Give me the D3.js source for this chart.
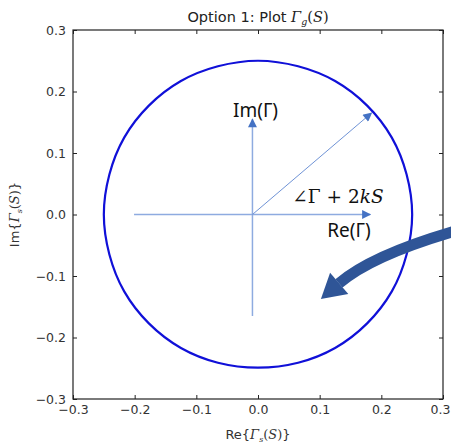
<!DOCTYPE html>
<html>
<head>
<meta charset="utf-8">
<script src="https://cdn.jsdelivr.net/npm/d3@7"></script>
<style>
  body { margin: 0; background: #fff; }
  svg { display: block; }
</style>
</head>
<body>
<svg id="chart"></svg>
<script>
const reGamma = [0.250, 0.241, 0.217, 0.177, 0.125, 0.065, 0.000, -0.065, -0.125, -0.177, -0.217, -0.241,
                 -0.250, -0.241, -0.217, -0.177, -0.125, -0.065, 0.000, 0.065, 0.125, 0.177, 0.217, 0.241];
const imGamma = [0.000, 0.065, 0.125, 0.177, 0.217, 0.241, 0.250, 0.241, 0.217, 0.177, 0.125, 0.065,
                 0.000, -0.065, -0.125, -0.177, -0.217, -0.241, -0.249, -0.241, -0.217, -0.177, -0.125, -0.065];
const xTicks = [-0.3, -0.2, -0.1, 0.0, 0.1, 0.2, 0.3];
const yTicks = [-0.3, -0.2, -0.1, 0.0, 0.1, 0.2, 0.3];

// overlay annotation (in data units)
const annOrigin = [-0.009, 0.0];
const annReEnd = [[-0.201, 0.0], [0.182, 0.0]];
const annImEnd = [[-0.009, -0.165], [-0.009, 0.155]];
const annPhasor = [0.184, 0.165];
const bigArrow = [[0.3195, -0.0268], [0.1837, -0.0665], [0.1313, -0.112]];
const bigHead = [[0.1020, -0.1375], [0.1169, -0.0948], [0.1464, -0.1293]];

const width = 451, height = 444;
const margin = {top: 30, right: 8, bottom: 45, left: 73};

const svg = d3.select('#chart')
  .attr('width', width)
  .attr('height', height);

const x = d3.scaleLinear().domain([-0.3, 0.3]).range([margin.left, width - margin.right]);
const y = d3.scaleLinear().domain([-0.3, 0.3]).range([height - margin.bottom, margin.top]);

const fmt = d3.format('.1f');
const tickFont = 'DejaVu Sans, sans-serif';

function styleAxis(g) {
  g.select('.domain').remove();
  g.selectAll('.tick line').attr('stroke', '#222').attr('stroke-width', 1);
  g.selectAll('.tick text')
    .attr('fill', '#333')
    .attr('font-family', tickFont)
    .attr('font-size', '12.5px');
}

const xAxis = svg.append('g')
  .attr('transform', `translate(0,${y(-0.3)})`)
  .call(d3.axisBottom(x).tickValues(xTicks).tickFormat(fmt).tickSizeInner(-4).tickSizeOuter(0).tickPadding(6))
  .call(styleAxis);
// last label sits against the page edge
xAxis.selectAll('.tick text').filter(d => d === 0.3).attr('dx', -3);

svg.append('g')
  .attr('transform', `translate(0,${y(0.3)})`)
  .call(d3.axisTop(x).tickValues(xTicks).tickFormat('').tickSizeInner(-4).tickSizeOuter(0))
  .call(styleAxis);
svg.append('g')
  .attr('transform', `translate(${x(-0.3)},0)`)
  .call(d3.axisLeft(y).tickValues(yTicks).tickFormat(fmt).tickSizeInner(-4).tickSizeOuter(0).tickPadding(7))
  .call(styleAxis);
svg.append('g')
  .attr('transform', `translate(${x(0.3)},0)`)
  .call(d3.axisRight(y).tickValues(yTicks).tickFormat('').tickSizeInner(-4).tickSizeOuter(0))
  .call(styleAxis);

// frame
svg.append('rect')
  .attr('x', x(-0.3)).attr('y', y(0.3))
  .attr('width', x(0.3) - x(-0.3)).attr('height', y(-0.3) - y(0.3))
  .attr('fill', 'none').attr('stroke', '#222').attr('stroke-width', 1.2);

// the curve
const pts = reGamma.map((r, i) => [r, imGamma[i]]);
svg.append('path')
  .datum(pts)
  .attr('fill', 'none')
  .attr('stroke', '#1010d8')
  .attr('stroke-width', 2.2)
  .attr('d', d3.line().x(d => x(d[0])).y(d => y(d[1])).curve(d3.curveCardinalClosed));

// title and axis labels
const title = svg.append('text')
  .attr('x', x(0)).attr('y', 22)
  .attr('text-anchor', 'middle')
  .attr('font-family', tickFont).attr('font-size', '14.5px').attr('fill', '#222');
title.append('tspan').text('Option 1: Plot ');
title.append('tspan').attr('font-family', 'DejaVu Serif, serif').attr('font-style', 'italic').text('Γ');
title.append('tspan').attr('font-family', 'DejaVu Serif, serif').attr('font-style', 'italic')
  .attr('font-size', '9.5px').attr('dy', 3).text('g');
title.append('tspan').attr('font-family', 'DejaVu Serif, serif').attr('dy', -3).text('(');
title.append('tspan').attr('font-family', 'DejaVu Serif, serif').attr('font-style', 'italic').text('S');
title.append('tspan').attr('font-family', 'DejaVu Serif, serif').text(')');

function mathLabel(sel, pre) {
  sel.append('tspan').text(pre + '{');
  sel.append('tspan').attr('font-family', 'DejaVu Serif, serif').attr('font-style', 'italic').text('Γ');
  sel.append('tspan').attr('font-family', 'DejaVu Serif, serif').attr('font-style', 'italic')
    .attr('font-size', '8px').attr('dy', 3).text('s');
  sel.append('tspan').attr('font-family', 'DejaVu Serif, serif').attr('dy', -3).text('(');
  sel.append('tspan').attr('font-family', 'DejaVu Serif, serif').attr('font-style', 'italic').text('S');
  sel.append('tspan').attr('font-family', 'DejaVu Serif, serif').text(')');
  sel.append('tspan').text('}');
}

svg.append('text')
  .attr('x', x(0)).attr('y', 439)
  .attr('text-anchor', 'middle')
  .attr('font-family', tickFont).attr('font-size', '13px').attr('fill', '#333')
  .call(mathLabel, 'Re');

svg.append('text')
  .attr('transform', `translate(19,${y(0)}) rotate(-90)`)
  .attr('text-anchor', 'middle')
  .attr('font-family', tickFont).attr('font-size', '13px').attr('fill', '#333')
  .call(mathLabel, 'Im');

// annotation overlay
const defs = svg.append('defs');
defs.append('marker')
  .attr('id', 'tri')
  .attr('viewBox', '0 0 10 10')
  .attr('refX', 9).attr('refY', 5)
  .attr('markerUnits', 'userSpaceOnUse')
  .attr('markerWidth', 10).attr('markerHeight', 9)
  .attr('orient', 'auto')
  .append('path').attr('d', 'M0,0 L10,5 L0,10 Z').attr('fill', '#4472c4');

const ann = svg.append('g');
ann.append('line')
  .attr('x1', x(annReEnd[0][0])).attr('y1', y(annReEnd[0][1]))
  .attr('x2', x(annReEnd[1][0])).attr('y2', y(annReEnd[1][1]))
  .attr('stroke', '#8eabe0').attr('stroke-width', 1.5)
  .attr('marker-end', 'url(#tri)');
ann.append('line')
  .attr('x1', x(annImEnd[0][0])).attr('y1', y(annImEnd[0][1]))
  .attr('x2', x(annImEnd[1][0])).attr('y2', y(annImEnd[1][1]))
  .attr('stroke', '#8eabe0').attr('stroke-width', 1.5)
  .attr('marker-end', 'url(#tri)');
ann.append('line')
  .attr('x1', x(annOrigin[0])).attr('y1', y(annOrigin[1]))
  .attr('x2', x(annPhasor[0])).attr('y2', y(annPhasor[1]))
  .attr('stroke', '#6f93d6').attr('stroke-width', 1)
  .attr('marker-end', 'url(#tri)');

ann.append('text')
  .attr('x', x(-0.004)).attr('y', y(0.159))
  .attr('text-anchor', 'middle')
  .attr('font-family', 'Noto Sans, sans-serif').attr('font-size', '19px').attr('fill', '#111')
  .text('Im(Γ)');
ann.append('text')
  .attr('x', x(0.1476)).attr('y', y(-0.036))
  .attr('text-anchor', 'middle')
  .attr('font-family', 'Noto Sans, sans-serif').attr('font-size', '19px').attr('fill', '#111')
  .text('Re(Γ)');

const phase = ann.append('text')
  .attr('x', x(0.1297)).attr('y', y(0.0192))
  .attr('text-anchor', 'middle')
  .attr('font-family', 'DejaVu Serif, serif').attr('font-size', '18.5px').attr('fill', '#111');
phase.append('tspan').text('∠Γ + 2');
phase.append('tspan').attr('font-style', 'italic').text('kS');

// big curved arrow
ann.append('path')
  .attr('d', `M${x(bigArrow[0][0])},${y(bigArrow[0][1])} Q${x(bigArrow[1][0])},${y(bigArrow[1][1])} ${x(bigArrow[2][0])},${y(bigArrow[2][1])}`)
  .attr('fill', 'none').attr('stroke', '#2f5597').attr('stroke-width', 11);
ann.append('path')
  .datum(bigHead)
  .attr('d', d3.line().x(d => x(d[0])).y(d => y(d[1])).curve(d3.curveLinearClosed))
  .attr('fill', '#2f5597');
</script>
</body>
</html>
